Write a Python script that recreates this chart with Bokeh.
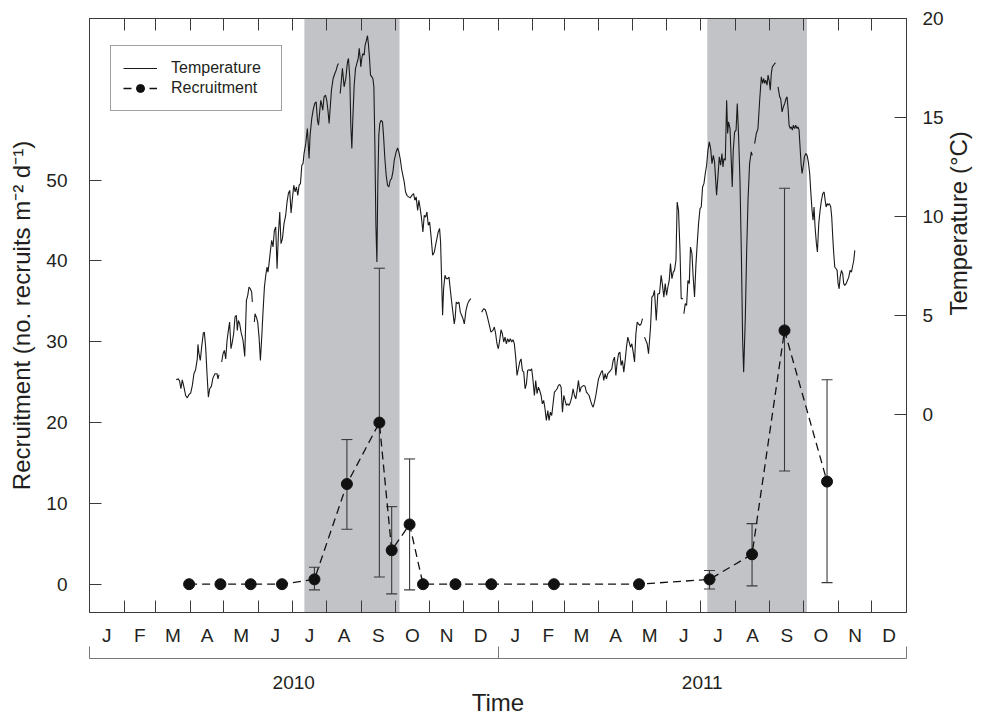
import math
import numpy as np
import pandas as pd
from bokeh.plotting import figure
from bokeh.models import (Range1d, LinearAxis, FixedTicker, CustomJSTickFormatter, BoxAnnotation,
                          Whisker, TeeHead, ColumnDataSource, Legend, LegendItem)
from bokeh.embed import file_html
from bokeh.resources import INLINE

nan = float("nan")

# ---------------- data ----------------
month_labels = ["J", "F", "M", "A", "M", "J", "J", "A", "S", "O", "N", "D"]
year_labels = ["2010", "2011"]

# recruitment sampling dates, mean and error-bar limits (no. recruits m-2 d-1)
rec_dates = ["2010-03-31", "2010-04-28", "2010-05-25", "2010-06-22", "2010-07-21", "2010-08-19",
             "2010-09-17", "2010-09-28", "2010-10-14", "2010-10-26", "2010-11-24", "2010-12-26",
             "2011-02-20", "2011-05-07", "2011-07-09", "2011-08-16", "2011-09-14", "2011-10-22"]
rec_mean = [0, 0, 0, 0, 0.6, 12.4, 20.0, 4.2, 7.4, 0, 0, 0, 0, 0, 0.6, 3.7, 31.4, 12.7]
rec_upper = [nan, nan, nan, nan, 2.1, 17.9, 39.1, 9.6, 15.5, nan, nan, nan, nan, nan, 1.7, 7.5, 49.0, 25.3]
rec_lower = [nan, nan, nan, nan, -0.7, 6.8, 0.9, -1.2, -0.7, nan, nan, nan, nan, nan, -0.6, -0.2, 14.0, 0.2]

# shaded periods
shade_start = ["2010-07-12", "2011-07-07"]
shade_end = ["2010-10-05", "2011-10-04"]

# temperature record: day since 1 Jan 2010, temperature (deg C); nan = gap in record
temp_day = [
    77.5, 79.3, 80.5, 81.7, 82.9, 84.4, 85.9, 87.4, 88.9, 90.4, 91.9, 93.3, 94.8, 96.3, 96.9, 97.8,
    99.0, 100.2, 101.7, 102.6, 103.8, 105.0, 106.2, 107.4, 108.9, 110.3, 112.1, 113.9, 114.8, 115.7, nan,
    118.1, 119.3, 120.5, 121.7, 122.9, 124.1, 125.2, 126.4, 127.6, 128.8, 130.0, 131.2, 132.1, 133.0,
    134.2, 135.4, 137.2, 138.7, 140.2, 141.4, 142.5, 143.7, 144.9, 145.5, nan,
    147.3, 147.9, 149.1, 150.3, 151.5, 152.7, 153.9, 155.1, 156.3, 157.5, 158.6, 159.5, 160.4, 161.7,
    162.8, 164.0, 165.2, 166.4, 167.6, 168.8, 170.0, 171.1, 172.4, 173.8, 175.3, 176.5, 177.7, 178.9,
    180.1, 181.3, 182.5, 183.7, 184.9, 186.1, 187.3, 188.5, 189.7, 190.8, 191.7, 193.2, 194.7, 196.2,
    197.1, 198.6, 199.8, 201.3, 202.5, 203.7, 204.6, 205.8, 206.7, 207.6, 208.4, 209.6, 210.9, 212.0,
    213.2, 214.1, 215.0, 216.2, 217.7, 219.2, 220.4, 221.6, 222.5, nan,
    224.0, 226.0, 227.5, 229.0, 230.5, 231.4, 232.6, 233.5, 234.4, 235.3, 236.5, 237.7, 238.9, 240.1,
    241.0, 241.9, 242.4, 243.3, 244.2, 245.4, 246.3, 247.5, 248.4, 249.3, 250.2, 251.1, 252.3, 253.2,
    254.1, 255.0, 255.9, 256.8, 257.6, 258.5, 259.4, 260.6, 261.8, 262.7, 263.9, 265.1, 266.3, 267.5,
    268.7, 269.9, 271.1, 272.3, 274.0, 275.3, 276.4, 277.6, 278.8, 280.0, 281.2, 282.4, 283.6, 285.1,
    286.6, 288.1, 289.6, 290.7, 291.9, 293.2, 294.3, 295.5, 296.7, 297.9, 299.1, 300.3, 301.5, 302.7,
    303.9, 305.1, 306.6, 308.1, 309.2, 310.4, 311.6, 312.8, 313.7, 314.6, 315.5, 316.4, 317.6, 318.8,
    320.0, 321.2, 322.3, 323.6, 324.7, 325.9, 326.8, 327.7, 328.9, 330.1, 331.3, 332.5, 333.7, 334.9,
    336.4, 337.9, 339.3, 340.8, nan,
    350.4, 352.2, 353.7, 355.2, 357.0, 358.7, 360.5, 361.7, 362.9, 364.1, 365.3, 366.5, 367.7, 368.9,
    370.1, 371.3, 372.5, 373.6, 374.8, 376.0, 377.2, 378.4, 379.6, 380.8, 382.0, 383.2, 384.4, 385.6,
    386.8, 388.0, 389.2, 390.4, 391.5, 392.7, 393.9, 395.1, 396.3, 397.5, 398.7, 399.9, 401.1, 402.3,
    403.5, 404.6, 405.8, 407.0, 408.2, 409.5, 410.6, 411.8, 413.0, 414.2, 415.4, 416.6, 417.8, 419.0,
    420.2, 421.4, 422.6, 423.8, 424.9, 426.1, 427.3, 428.5, 429.7, 430.9, 432.1, 433.3, 434.5, 435.7,
    436.9, 438.1, 439.3, 440.4, 441.6, 442.8, 444.0, 445.2, 446.4, 447.6, 448.8, 450.0, 451.2, 452.4,
    453.6, 454.8, 456.0, 457.2, 458.3, 459.5, 460.7, 461.9, 463.1, 464.3, 465.5, 466.7, 467.9, 469.1,
    470.3, 471.5, 472.7, 473.9, 475.0, 476.2, 477.4, 478.6, 479.8, 481.0, 482.2, 483.4, 484.6, 485.8,
    487.0, 488.2, 489.4, 490.5, 491.7, 492.9, 494.1, nan,
    495.9, 498.3, 499.5, 501.3, 502.5, 503.7, 504.8, 506.4, 507.8, 509.3, 510.8, 512.0, 513.2, 514.4,
    515.6, 516.8, 518.0, 519.1, 520.4, 521.6, 522.7, 524.0, 525.1, 526.3, 527.6, 528.7, 530.2, nan,
    531.1, 532.3, 533.5, 534.7, 535.9, 537.0, 538.3, 539.4, 540.6, 541.9, 543.0, 544.2, 545.5, 546.6,
    547.8, 549.0, 550.2, 551.4, 552.6, 553.8, 555.0, 556.2, 557.4, 558.5, 560.3, 561.5, 562.7, 563.9,
    565.1, 566.0, 566.9, 568.1, 569.3, 570.2, 571.0, 572.3, 573.4, 574.3, 575.2, 576.4, 577.7, 578.8,
    580.0, 581.2, 582.4, 583.6, 584.5, 586.0, 587.2, 588.4, 589.8, 591.3, 592.2, nan,
    594.3, 595.8, 597.3, 598.8, 600.3, 601.5, 602.4, 603.3, 604.2, 605.4, 606.3, 607.5, 608.3, 609.2,
    610.1, 611.3, 612.2, 613.1, nan,
    615.2, 616.7, 617.6, 618.8, 620.0, 621.2, 622.4, 623.3, 624.2, 625.1, 626.2, 627.1, 628.0, 628.9,
    630.1, 631.0, 632.2, 633.1, 634.0, 634.9, 635.8, 636.7, 637.6, 638.8, 640.0, 641.2, 642.3, 643.5,
    644.4, 645.6, 646.5, 647.4, 648.3, 649.5, 650.4, 651.6, 652.8, 654.0, 655.2, 656.4, 657.3, 658.2,
    659.1, 659.9, 661.1, 662.3, 663.2, 664.1, 665.0, 665.9, 667.1, 668.0, 668.9, 669.8, 670.7, 671.9,
    673.0, 673.9, 674.8, 676.1, 677.2, 678.4, 679.6, 680.8, 681.7, 682.9, 683.8,
]
temp_c = [
    1.75, 1.80, 1.69, 1.30, 1.75, 1.38, 0.96, 0.84, 1.01, 1.08, 1.47, 2.06, 2.26, 2.81, 3.54, 3.07,
    2.73, 3.40, 4.11, 4.16, 3.40, 2.06, 0.88, 1.30, 1.42, 1.85, 2.06, 2.06, 1.80, 2.02, nan,
    2.65, 3.07, 3.24, 2.81, 3.74, 4.25, 4.67, 3.32, 3.66, 4.08, 4.92, 5.01, 4.25, 4.75,
    4.58, 4.16, 3.74, 2.93, 5.76, 6.02, 6.44, 6.35, 6.18, 5.68, nan,
    4.67, 5.09, 4.92, 4.67, 3.91, 2.73, 3.91, 5.26, 6.44, 7.03, 7.45, 7.19, 7.62, 8.29,
    8.80, 8.46, 9.30, 9.47, 7.36, 9.13, 10.23, 8.63, 8.88, 9.64, 10.06, 10.73, 11.16, 11.32,
    10.18, 10.90, 11.58, 11.24, 11.49, 11.07, 11.58, 11.66, 12.59, 12.67, 13.18, 13.68, 14.44, 12.93,
    14.11, 14.95, 15.37, 15.71, 15.79, 14.86, 14.61, 15.37, 15.87, 15.62, 15.37, 16.04, 16.13, 15.87,
    15.28, 14.70, 15.45, 16.38, 16.97, 17.22, 17.39, 17.64, 17.73, nan,
    16.21, 17.48, 16.55, 16.97, 17.81, 17.98, 16.97, 14.61, 13.43, 14.95, 16.63, 17.48, 17.73, 17.98,
    18.49, 17.98, 17.56, 17.98, 18.23, 18.15, 18.66, 18.91, 19.13, 18.66, 17.98, 17.14, 17.05, 16.97,
    16.55, 13.60, 9.56, 7.70, 11.58, 14.11, 14.70, 14.86, 14.78, 14.11, 12.93, 12.08, 11.58, 11.49,
    11.83, 11.91, 12.25, 12.84, 13.26, 13.46, 13.26, 12.93, 12.42, 12.08, 11.75, 11.24, 11.07, 10.99,
    10.94, 11.07, 11.16, 10.82, 10.99, 10.31, 10.82, 10.40, 9.89, 9.22, 10.06, 9.97, 10.23, 9.56,
    9.72, 9.05, 8.04, 8.21, 8.54, 8.88, 9.22, 9.39, 8.71, 6.86, 5.01, 6.35, 7.03, 6.86,
    6.86, 6.94, 6.35, 5.68, 5.17, 4.58, 4.92, 5.68, 5.60, 5.68, 5.17, 5.01, 4.84, 4.58,
    5.26, 5.60, 5.76, 5.85, nan,
    5.17, 5.34, 5.29, 5.01, 4.58, 4.16, 4.25, 4.42, 4.08, 3.57, 3.32, 3.74, 4.28, 4.08,
    3.66, 3.91, 3.57, 3.83, 3.66, 3.83, 3.66, 3.78, 3.57, 2.90, 1.97, 2.31, 2.65, 2.81,
    2.22, 2.14, 1.30, 1.55, 2.22, 2.26, 2.22, 2.31, 1.72, 0.96, 1.72, 1.05, 1.38, 1.21,
    0.96, 0.54, 0.71, 0.29, -0.30, 0.20, -0.30, 0.12, -0.05, 0.54, 1.13, 1.21, 1.30, 1.47,
    1.52, 1.38, 0.12, 0.96, 0.71, 0.46, 0.54, 0.46, 0.62, 0.88, 1.30, 0.96, 0.79, 1.21,
    1.72, 1.13, 1.38, 1.42, 1.47, 1.42, 1.13, 1.05, 0.96, 0.71, 0.51, 0.37, 0.62, 0.96,
    1.38, 1.80, 1.97, 2.14, 2.22, 1.72, 2.06, 1.80, 2.06, 2.14, 2.22, 2.31, 2.73, 2.90,
    1.97, 2.65, 3.07, 3.15, 2.48, 2.73, 2.14, 2.73, 3.40, 3.91, 3.66, 3.40, 3.57, 3.15,
    2.65, 4.08, 4.67, 4.58, 4.50, 4.58, 4.84, nan,
    3.91, 3.57, 3.07, 4.42, 5.93, 6.02, 6.27, 4.75, 6.10, 6.10, 7.03, 6.52, 5.93, 6.61,
    6.02, 6.44, 6.77, 7.62, 6.86, 7.19, 7.28, 7.79, 10.73, 10.31, 8.29, 5.85, 5.85, nan,
    5.09, 5.60, 5.51, 6.77, 6.61, 8.46, 8.12, 6.94, 5.93, 7.62, 8.63, 9.64, 10.40, 10.48,
    11.49, 11.66, 12.17, 12.59, 13.35, 13.77, 13.43, 12.67, 13.09, 12.76, 11.07, 12.00, 13.01, 12.59,
    13.18, 12.50, 12.93, 12.84, 15.87, 14.19, 14.78, 14.44, 12.84, 11.49, 13.35, 14.27, 14.36, 15.71,
    14.02, 11.83, 8.29, 3.74, 2.14, 4.92, 8.29, 10.82, 12.67, 13.26, 13.09, nan,
    13.68, 14.19, 14.44, 15.87, 17.05, 16.72, 16.97, 16.72, 16.89, 16.63, 17.14, 16.80, 16.38, 17.22,
    17.56, 17.64, 17.73, 17.76, nan,
    16.55, 16.04, 15.96, 15.28, 15.54, 15.71, 15.96, 16.04, 15.45, 14.61, 14.44, 14.53, 14.36, 14.61,
    14.44, 14.61, 14.44, 14.53, 14.36, 13.51, 12.67, 12.17, 12.50, 13.01, 13.18, 13.09, 12.76, 12.17,
    11.32, 10.31, 9.81, 10.48, 9.47, 8.63, 8.21, 9.64, 10.31, 10.82, 11.16, 11.24, 10.82, 10.48,
    10.65, 10.57, 10.65, 10.48, 9.97, 8.96, 8.12, 7.45, 7.36, 7.28, 6.61, 6.35, 6.94, 7.28,
    7.11, 6.61, 6.52, 6.61, 6.77, 6.94, 7.28, 7.19, 7.45, 7.79, 8.29,
]

# ---------------- helpers ----------------
ORIGIN = pd.Timestamp("2010-01-01")


def to_day(dates):
    return ((pd.to_datetime(pd.Series(dates)) - ORIGIN) / pd.Timedelta(days=1)).to_numpy(float)


month_start = to_day(pd.date_range("2010-01-01", "2012-01-01", freq="MS"))
month_mid = [float(v) for v in (month_start[:-1] + month_start[1:]) / 2.0]
year_start = to_day(pd.date_range("2010-01-01", "2012-01-01", freq="YS"))
year_mid = [float(v) for v in (year_start[:-1] + year_start[1:]) / 2.0]
x_end = float(year_start[-1])

FONT = "Liberation Sans"
TXT = "#231f20"
AX = "#3a3a3a"

p = figure(width=988, height=719, output_backend="svg", toolbar_location=None,
           x_range=Range1d(0, x_end), y_range=Range1d(-3.5, 70),
           x_axis_location=None, y_axis_location=None,
           min_border_left=89, min_border_right=82, min_border_top=18, min_border_bottom=107)
p.extra_y_ranges = {"temp": Range1d(-10, 20)}
p.xgrid.visible = False
p.ygrid.visible = False
p.outline_line_color = AX
p.outline_line_width = 1
p.background_fill_color = "white"
p.border_fill_color = "white"

# shaded periods
for s, e in zip(to_day(shade_start), to_day(shade_end)):
    p.add_layout(BoxAnnotation(left=float(s), right=float(e), fill_color="#c2c3c7", fill_alpha=1.0,
                               line_color=None, level="underlay"))

# temperature
temp_r = p.line(np.array(temp_day, float), np.array(temp_c, float), y_range_name="temp",
                line_color="#1a1a1a", line_width=1.1)

# recruitment
rx = to_day(rec_dates)
src = ColumnDataSource(dict(x=rx, y=rec_mean))
up = np.array(rec_upper, float)
lo = np.array(rec_lower, float)
mask = ~np.isnan(up)
wsrc = ColumnDataSource(dict(x=rx[mask], upper=up[mask], lower=lo[mask]))
p.add_layout(Whisker(base="x", upper="upper", lower="lower", source=wsrc,
                     line_color="#3a3a3a", line_width=1.1,
                     upper_head=TeeHead(size=11, line_color="#3a3a3a", line_width=1.1),
                     lower_head=TeeHead(size=11, line_color="#3a3a3a", line_width=1.1)))
rec_line = p.line("x", "y", source=src, line_color="#111111", line_width=1.3, line_dash="8 5")
rec_pts = p.scatter("x", "y", source=src, size=11, marker="circle", fill_color="#111111",
                    line_color="#111111")


def style_axis(ax, size="19px"):
    ax.axis_line_color = AX
    ax.major_label_text_font = FONT
    ax.major_label_text_font_size = size
    ax.major_label_text_color = TXT
    ax.axis_label_text_font = FONT
    ax.axis_label_text_font_style = "normal"
    ax.axis_label_text_color = TXT
    ax.major_tick_line_color = AX
    ax.minor_tick_line_color = AX


fmt_code = """
let k = -1;
for (let i = 0; i < tvals.length; i++) { if (Math.abs(tvals[i] - tick) < 1e-6) { k = i; } }
return k >= 0 ? tlabels[k] : "";
"""

# left axis
yl = LinearAxis(ticker=FixedTicker(ticks=[0, 10, 20, 30, 40, 50]),
                axis_label="Recruitment (no. recruits m\u207b\u00b2 d\u207b\u00b9)")
style_axis(yl)
yl.major_tick_in = 12
yl.major_tick_out = 0
yl.major_label_standoff = 22
yl.axis_label_standoff = 8
yl.axis_label_text_font_size = "24px"
p.add_layout(yl, "left")

# right axis
yr = LinearAxis(y_range_name="temp", ticker=FixedTicker(ticks=[0, 5, 10, 15, 20]),
                axis_label="Temperature (\u00b0C)")
style_axis(yr)
yr.major_tick_in = 12
yr.major_tick_out = 0
yr.major_label_standoff = 16
yr.axis_label_standoff = 12
yr.axis_label_text_font_size = "24px"
try:
    yr.axis_label_orientation = math.pi / 2
except Exception:
    pass
p.add_layout(yr, "right")

# top axis (month ticks only)
xt = LinearAxis(ticker=FixedTicker(ticks=[], minor_ticks=[float(v) for v in month_start[1:-1]]))
style_axis(xt)
xt.minor_tick_in = 12
xt.minor_tick_out = 0
p.add_layout(xt, "above")

# bottom month axis
xb = LinearAxis(ticker=FixedTicker(ticks=month_mid, minor_ticks=[float(v) for v in month_start[1:-1]]),
                formatter=CustomJSTickFormatter(args=dict(tvals=month_mid, tlabels=month_labels * 2),
                                                code=fmt_code))
style_axis(xb)
xb.major_tick_line_color = None
xb.minor_tick_in = 12
xb.minor_tick_out = 0
xb.major_label_standoff = 6
xb.axis_label = " "
xb.axis_label_standoff = 0
xb.axis_label_text_font_size = "7px"
p.add_layout(xb, "below")

# bottom year axis
yt = [float(year_start[0]) + 0.01, float(year_start[1]), float(year_start[2]) - 0.01]
xy = LinearAxis(ticker=FixedTicker(ticks=year_mid, minor_ticks=yt),
                formatter=CustomJSTickFormatter(args=dict(tvals=year_mid, tlabels=year_labels),
                                                code=fmt_code),
                axis_label="Time")
style_axis(xy)
xy.axis_line_color = "#777777"
xy.minor_tick_line_color = "#777777"
xy.major_tick_line_color = None
xy.minor_tick_in = 12
xy.minor_tick_out = 0
xy.major_label_standoff = 11
xy.axis_label_standoff = -3
xy.axis_label_text_font_size = "24px"
p.add_layout(xy, "below")

legend = Legend(items=[LegendItem(label="Temperature", renderers=[temp_r]),
                       LegendItem(label="Recruitment", renderers=[rec_line, rec_pts])],
                location=(21, 501), orientation="vertical",
                label_text_font=FONT, label_text_font_size="16px", label_text_color=TXT,
                glyph_width=34, glyph_height=20, label_height=20, label_standoff=14,
                padding=12, spacing=0, margin=0, label_width=98,
                border_line_color="#444444", border_line_width=1,
                background_fill_color="white", background_fill_alpha=1.0)
p.add_layout(legend)

open("out.html", "w").write(file_html(p, INLINE))
